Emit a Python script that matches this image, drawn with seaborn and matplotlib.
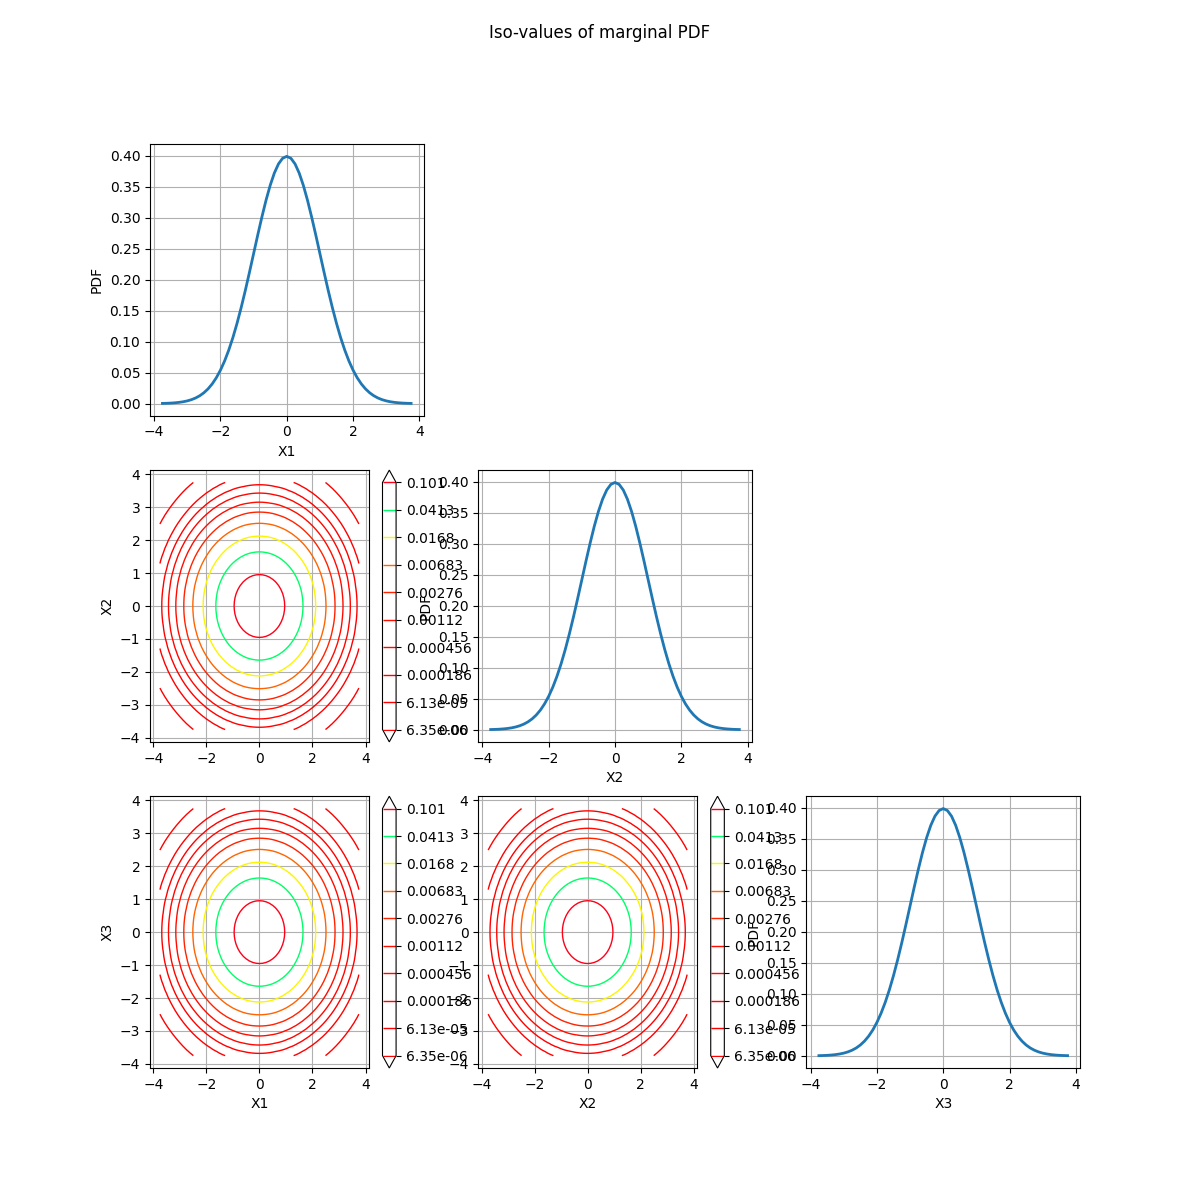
import numpy as np
import pandas as pd
import matplotlib
matplotlib.use("Agg")
import matplotlib.pyplot as plt
import seaborn as sns

# ---- data ----
variables = ["X1", "X2", "X3"]

x_grid = [-3.75, -3.625, -3.5, -3.375, -3.25, -3.125, -3.0, -2.875, -2.75, -2.625,
          -2.5, -2.375, -2.25, -2.125, -2.0, -1.875, -1.75, -1.625, -1.5, -1.375,
          -1.25, -1.125, -1.0, -0.875, -0.75, -0.625, -0.5, -0.375, -0.25, -0.125,
          0.0,
          0.125, 0.25, 0.375, 0.5, 0.625, 0.75, 0.875, 1.0, 1.125, 1.25,
          1.375, 1.5, 1.625, 1.75, 1.875, 2.0, 2.125, 2.25, 2.375, 2.5,
          2.625, 2.75, 2.875, 3.0, 3.125, 3.25, 3.375, 3.5, 3.625, 3.75]

pdf_values = [0.0003526, 0.0005590, 0.0008727, 0.001341, 0.002029, 0.003022, 0.004432,
              0.006398, 0.009094, 0.01272, 0.01753, 0.02377, 0.03174, 0.04172, 0.05399,
              0.06879, 0.08628, 0.1065, 0.1295, 0.1550, 0.1826, 0.2119, 0.2420, 0.2721,
              0.3011, 0.3282, 0.3521, 0.3719, 0.3867, 0.3958,
              0.3989,
              0.3958, 0.3867, 0.3719, 0.3521, 0.3282, 0.3011, 0.2721, 0.2420, 0.2119,
              0.1826, 0.1550, 0.1295, 0.1065, 0.08628, 0.06879, 0.05399, 0.04172,
              0.03174, 0.02377, 0.01753, 0.01272, 0.009094, 0.006398, 0.004432,
              0.003022, 0.002029, 0.001341, 0.0008727, 0.0005590, 0.0003526]

iso_levels = [6.35e-06, 6.13e-05, 0.000186, 0.000456, 0.00112,
              0.00276, 0.00683, 0.0168, 0.0413, 0.101]
iso_labels = ["6.35e-06", "6.13e-05", "0.000186", "0.000456", "0.00112",
              "0.00276", "0.00683", "0.0168", "0.0413", "0.101"]

title = "Iso-values of marginal PDF"

# ---- figure ----
fig, axes = plt.subplots(3, 3, figsize=(12, 12), dpi=100)
fig.suptitle(title)

xg = np.array(x_grid)
pdf = np.array(pdf_values)
joint = np.outer(pdf, pdf)  # joint density on grid from the marginal values

lim = (-4.125, 4.125)

for i in range(3):
    for j in range(3):
        ax = axes[i][j]
        if j > i:
            ax.set_axis_off()
            continue
        if i == j:
            df = pd.DataFrame({"x": xg, "pdf": pdf})
            sns.lineplot(data=df, x="x", y="pdf", ax=ax, linewidth=2, color="#1f77b4")
            ax.set_xlabel(variables[i])
            ax.set_ylabel("PDF")
            ax.grid(True)
        else:
            cs = ax.contour(xg, xg, joint, levels=iso_levels, cmap="hsv",
                            linewidths=1, extend="both")
            ax.set_xlim(lim)
            ax.set_ylim(lim)
            ax.grid(True)
            cb = fig.colorbar(cs, ax=ax)
            cb.set_ticks(iso_levels, labels=iso_labels)
            if i == 2:
                ax.set_xlabel(variables[j])
            if j == 0:
                ax.set_ylabel(variables[i])

fig.savefig("out.png", dpi=100)
